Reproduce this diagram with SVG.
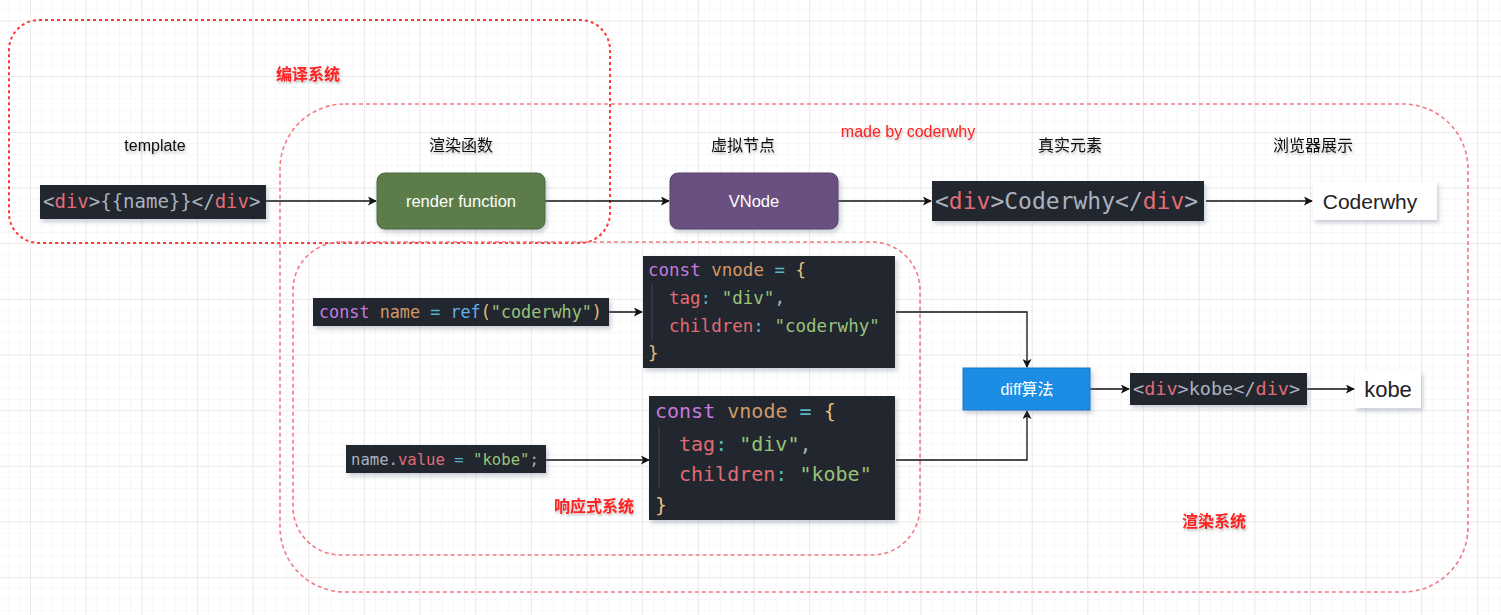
<svg xmlns="http://www.w3.org/2000/svg" width="1501" height="615" viewBox="0 0 1501 615">
<defs>
<pattern id="minor" x="30" y="20.6" width="11.13" height="11.13" patternUnits="userSpaceOnUse">
<path d="M0 0H11.13M0 0V11.13" fill="none" stroke="#f0f0f0" stroke-width="1"/>
</pattern>
<pattern id="major" x="30" y="20.6" width="55.65" height="55.65" patternUnits="userSpaceOnUse">
<path d="M0 0H55.65M0 0V55.65" fill="none" stroke="#dedede" stroke-width="1"/>
</pattern>
<marker id="arr" viewBox="0 0 10 10" refX="9" refY="5" markerWidth="9" markerHeight="9" markerUnits="userSpaceOnUse" orient="auto">
<path d="M0 0L10 5L0 10L2.5 5Z" fill="#111"/>
</marker>
<filter id="sh" x="-10%" y="-20%" width="120%" height="150%">
<feDropShadow dx="2" dy="3" stdDeviation="2" flood-color="#6a7890" flood-opacity="0.35"/>
</filter>
<filter id="tsh" x="-10%" y="-30%" width="120%" height="170%">
<feDropShadow dx="1" dy="2" stdDeviation="1.2" flood-color="#000" flood-opacity="0.25"/>
</filter>
<style>
.lbl{font-family:"Liberation Sans","Noto Sans CJK SC",sans-serif;font-size:16px;fill:#111;text-anchor:middle}
.red{fill:#ff2020;font-weight:bold}
.code{fill:#23272e}
.mono{font-family:"DejaVu Sans Mono","Liberation Mono",monospace;fill:#abb2bf}
.t{fill:#e06c75}.k{fill:#c678dd}.v{fill:#d19a66}.o{fill:#56b6c2}.f{fill:#61afef}.y{fill:#e5c07b}.s{fill:#98c379}
.node{font-family:"Liberation Sans","Noto Sans CJK SC",sans-serif;fill:#fff;text-anchor:middle}
.wbox{fill:#fff}
.dash1{fill:none;stroke:#ff3838;stroke-width:2;stroke-dasharray:3 3}
.dash2{fill:none;stroke:#f47a84;stroke-width:1.6;stroke-dasharray:4 3}
.conn path{fill:none;stroke:#111;stroke-width:1.3;marker-end:url(#arr)}
</style>
</defs>
<rect width="1501" height="615" fill="#fff"/>
<rect width="1501" height="615" fill="url(#minor)"/>
<rect width="1501" height="615" fill="url(#major)"/>

<g id="compile-system">
<rect class="dash1" x="9" y="20" width="601" height="223" rx="30"/>
<text class="lbl red" x="308" y="80" filter="url(#tsh)">编译系统</text>
</g>
<g id="render-system">
<rect class="dash2" x="280" y="104" width="1188" height="488" rx="65"/>
<text class="lbl red" x="1214" y="527" filter="url(#tsh)">渲染系统</text>
</g>
<g id="reactive-system">
<rect class="dash2" x="293" y="242" width="627" height="313" rx="48"/>
<text class="lbl red" x="594" y="512" filter="url(#tsh)">响应式系统</text>
</g>

<g id="labels">
<text class="lbl" x="155" y="151" filter="url(#tsh)">template</text>
<text class="lbl" x="461" y="151" filter="url(#tsh)">渲染函数</text>
<text class="lbl" x="743" y="151" filter="url(#tsh)">虚拟节点</text>
<text class="lbl" x="1070" y="151" filter="url(#tsh)">真实元素</text>
<text class="lbl" x="1313" y="151" filter="url(#tsh)">浏览器展示</text>
<text class="lbl" x="908" y="137" style="fill:#ff2020" filter="url(#tsh)">made by coderwhy</text>
</g>

<g id="connectors" class="conn">
<path d="M266 201H376"/>
<path d="M545 201H669"/>
<path d="M838 201H931"/>
<path d="M1206 201H1312"/>
<path d="M609 312H642"/>
<path d="M546 460H649"/>
<path d="M896 312H1027V367"/>
<path d="M896 460H1027V411"/>
<path d="M1090 389H1129"/>
<path d="M1307 389H1354"/>
</g>

<g id="template-code">
<rect class="code" x="40" y="185" width="226" height="34" filter="url(#sh)"/>
<text class="mono" x="43" y="208" font-size="19">&lt;<tspan class="t">div</tspan>&gt;{{name}}&lt;/<tspan class="t">div</tspan>&gt;</text>
</g>

<g id="render-function">
<rect x="377" y="173" width="168" height="56" rx="8" fill="#5b7d4a" stroke="#4d6a3e" stroke-width="1" filter="url(#sh)"/>
<text class="node" x="461" y="207" font-size="16.5">render function</text>
</g>

<g id="vnode">
<rect x="670" y="173" width="168" height="56" rx="8" fill="#6a5081" stroke="#57406c" stroke-width="1" filter="url(#sh)"/>
<text class="node" x="754" y="207" font-size="16.5">VNode</text>
</g>

<g id="real-element">
<rect class="code" x="932" y="181" width="272" height="40" filter="url(#sh)"/>
<text class="mono" x="935" y="209" font-size="23">&lt;<tspan class="t">div</tspan>&gt;Coderwhy&lt;/<tspan class="t">div</tspan>&gt;</text>
</g>

<g id="browser-coderwhy">
<rect class="wbox" x="1313" y="182" width="124" height="38" filter="url(#sh)"/>
<text x="1370" y="209" font-family="Liberation Sans, sans-serif" font-size="21" fill="#222" text-anchor="middle">Coderwhy</text>
</g>

<g id="const-name">
<rect class="code" x="313" y="298" width="296" height="28" filter="url(#sh)"/>
<text class="mono" x="319" y="318" font-size="16.8" xml:space="preserve"><tspan class="k">const</tspan> <tspan class="v">name</tspan> <tspan class="o">=</tspan> <tspan class="f">ref</tspan><tspan class="y">(</tspan><tspan class="s">"coderwhy"</tspan><tspan class="y">)</tspan></text>
</g>

<g id="vnode-1">
<rect class="code" x="643" y="256" width="252" height="112" filter="url(#sh)"/>
<line x1="652" y1="284" x2="652" y2="340" stroke="#3e444e" stroke-width="1"/>
<g class="mono" font-size="17.5">
<text x="648" y="276" xml:space="preserve"><tspan class="k">const</tspan> <tspan class="v">vnode</tspan> <tspan class="o">=</tspan> <tspan class="y">{</tspan></text>
<text x="669" y="304" xml:space="preserve"><tspan class="t">tag</tspan><tspan class="o">:</tspan> <tspan class="s">"div"</tspan>,</text>
<text x="669" y="332" xml:space="preserve"><tspan class="t">children</tspan><tspan class="o">:</tspan> <tspan class="s">"coderwhy"</tspan></text>
<text x="648" y="359"><tspan class="y">}</tspan></text>
</g>
</g>

<g id="name-value">
<rect class="code" x="346" y="445" width="200" height="28" filter="url(#sh)"/>
<text class="mono" x="351" y="465" font-size="15.6" xml:space="preserve">name.<tspan class="t">value</tspan> <tspan class="o">=</tspan> <tspan class="s">"kobe"</tspan>;</text>
</g>

<g id="vnode-2">
<rect class="code" x="649" y="396" width="246" height="124" filter="url(#sh)"/>
<line x1="659" y1="426" x2="659" y2="488" stroke="#3e444e" stroke-width="1"/>
<g class="mono" font-size="20">
<text x="655" y="418" xml:space="preserve"><tspan class="k">const</tspan> <tspan class="v">vnode</tspan> <tspan class="o">=</tspan> <tspan class="y">{</tspan></text>
<text x="679" y="451" xml:space="preserve"><tspan class="t">tag</tspan><tspan class="o">:</tspan> <tspan class="s">"div"</tspan>,</text>
<text x="679" y="481" xml:space="preserve"><tspan class="t">children</tspan><tspan class="o">:</tspan> <tspan class="s">"kobe"</tspan></text>
<text x="655" y="512"><tspan class="y">}</tspan></text>
</g>
</g>

<g id="diff">
<rect x="963" y="368" width="127" height="42" fill="#1a8de4" stroke="#1679c4" stroke-width="1" filter="url(#sh)"/>
<text class="node" x="1027" y="395" font-size="16">diff算法</text>
</g>

<g id="div-kobe">
<rect class="code" x="1130" y="373" width="177" height="32" filter="url(#sh)"/>
<text class="mono" x="1133" y="395" font-size="18.5">&lt;<tspan class="t">div</tspan>&gt;kobe&lt;/<tspan class="t">div</tspan>&gt;</text>
</g>

<g id="browser-kobe">
<rect class="wbox" x="1355" y="371" width="66" height="37" filter="url(#sh)"/>
<text x="1388" y="397" font-family="Liberation Sans, sans-serif" font-size="22" fill="#222" text-anchor="middle">kobe</text>
</g>
</svg>
